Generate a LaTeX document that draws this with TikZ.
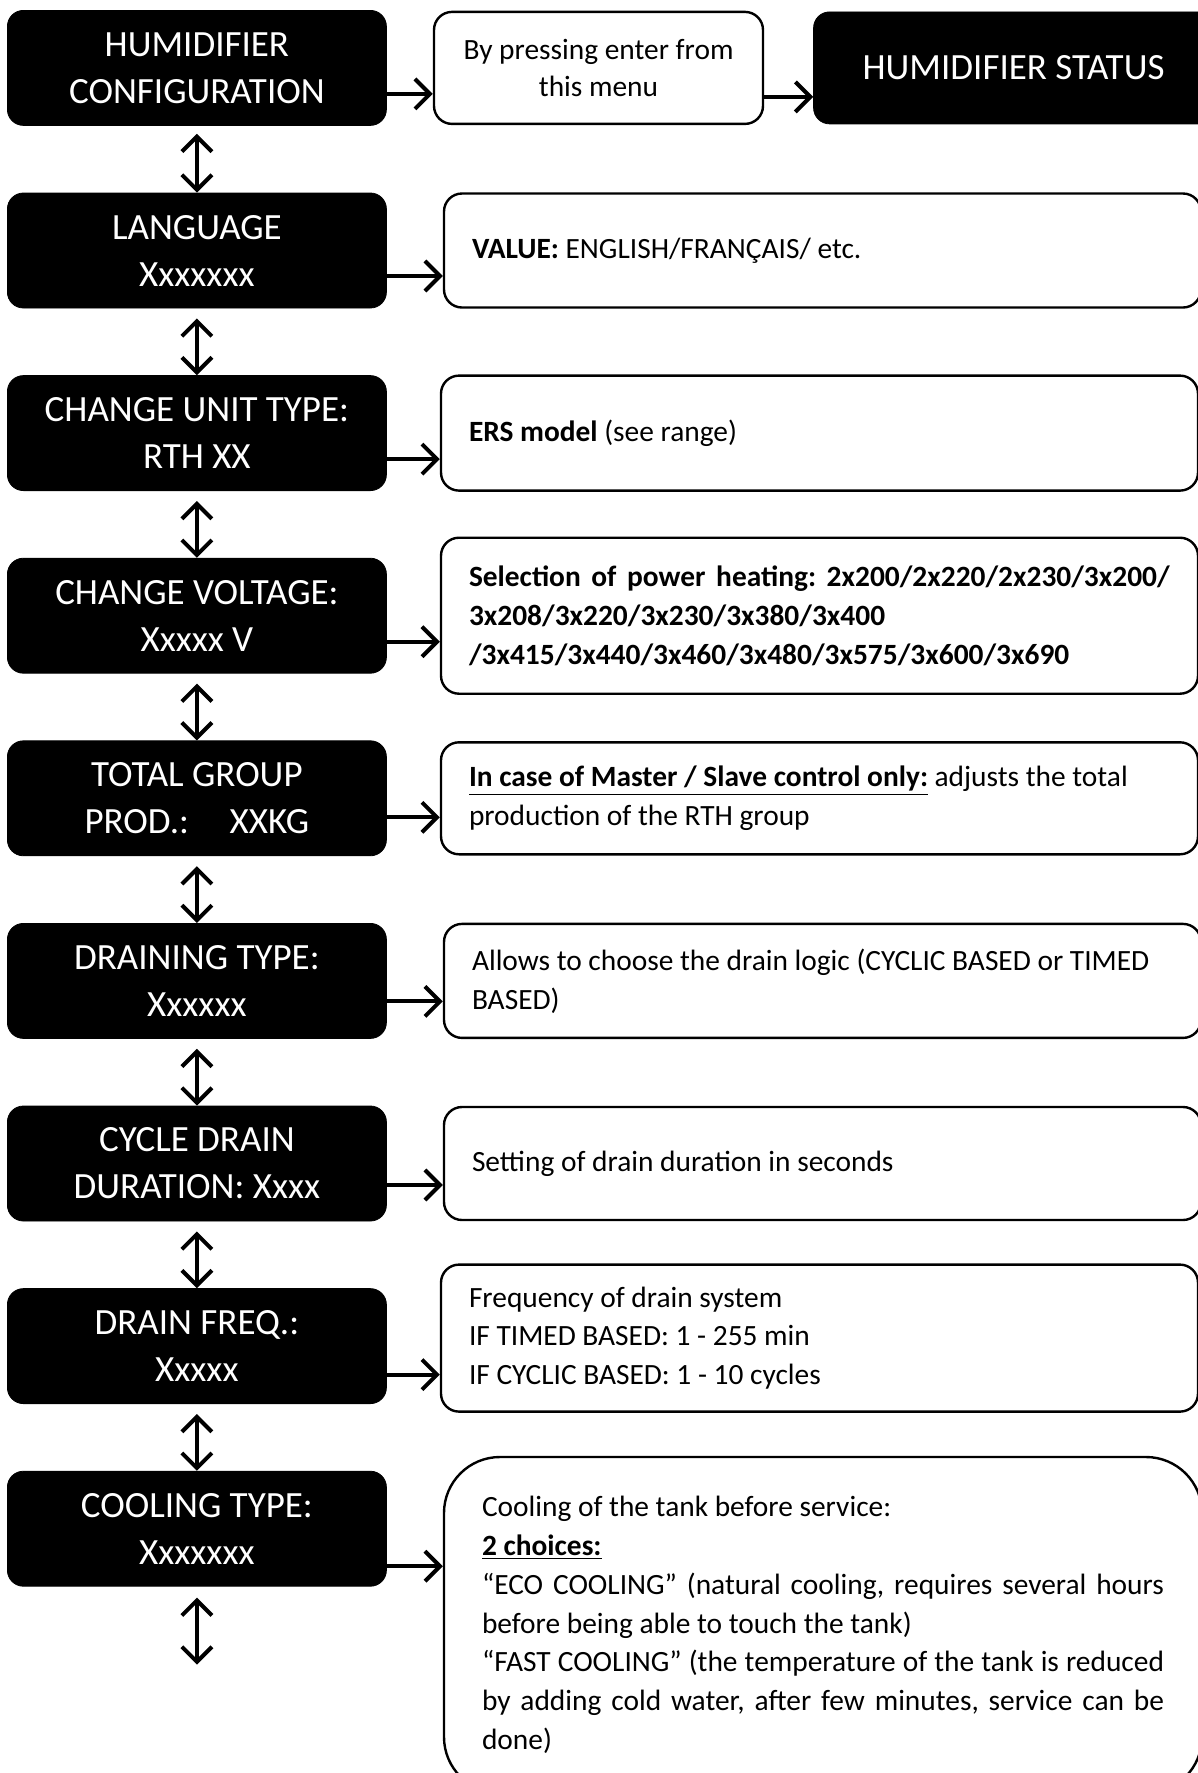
\documentclass[tikz,border=0pt]{standalone}
\usepackage{fontspec}
\setmainfont{Carlito}
\usetikzlibrary{arrows.meta,positioning}
\frenchspacing

\newcommand{\fullline}[1]{\makebox[\linewidth][s]{#1}}

\begin{document}
\begin{tikzpicture}[
  node distance=33.4pt and 26.5pt,
  >={Straight Barb[length=7.5pt,width=15pt]},
  menu/.style={fill=black,draw=black,rounded corners=8pt,text=white,
    align=center,minimum width=189.5pt,minimum height=57.5pt,inner sep=2pt,
    font=\fontsize{18.5}{23.5}\selectfont},
  note/.style={draw=black,line width=1.2pt,rounded corners=9pt,align=center,
    minimum width=164.5pt,minimum height=56pt,inner sep=2pt,
    font=\fontsize{14.7}{18.5}\selectfont},
  info/.style={draw=black,line width=1.2pt,rounded corners=9pt,align=flush left,
    text width=350.5pt,inner xsep=14pt,inner ysep=4pt,minimum width=378.5pt,
    font=\fontsize{14.7}{19.4}\selectfont},
  flow/.style={->,line width=2pt},
  both/.style={<->,line width=2pt}
]
\useasboundingbox (0,0) rectangle (599pt,-886.5pt);
\node[menu,anchor=north west] (config) at (3.5pt,-5pt) {HUMIDIFIER\\CONFIGURATION};
\node[menu,below=of config] (lang) {LANGUAGE\\Xxxxxxx};
\node[menu,below=of lang] (unit) {CHANGE UNIT TYPE:\\RTH XX};
\node[menu,below=of unit] (volt) {CHANGE VOLTAGE:\\Xxxxx V};
\node[menu,below=of volt] (group) {TOTAL GROUP\\PROD.:\hspace{1.1em}XXKG};
\node[menu,below=of group] (drain) {DRAINING TYPE:\\Xxxxxx};
\node[menu,below=of drain] (cycle) {CYCLE DRAIN\\DURATION: Xxxx};
\node[menu,below=of cycle] (freq) {DRAIN FREQ.:\\Xxxxx};
\node[menu,below=of freq] (cool) {COOLING TYPE:\\Xxxxxxx};
\coordinate[below=39pt of cool] (more);

\node[note,right=23pt of config] (press) {By pressing enter from\\this menu};
\node[menu,right=24.5pt of press,minimum width=200pt,minimum height=56pt] (status) {HUMIDIFIER STATUS};
\node[info,right=28pt of lang,minimum height=57pt] (value) {\textbf{VALUE:} ENGLISH/FRANÇAIS/ etc.};
\node[info,right=of unit,minimum height=57.5pt] (ers) {\textbf{ERS model} (see range)};
\node[info,right=of volt,minimum height=78pt] (power) {\fullline{\textbf{Selection of power heating: 2x200/2x220/2x230/3x200/}}\\
  \textbf{3x208/3x220/3x230/3x380/3x400}\\
  \textbf{/3x415/3x440/3x460/3x480/3x575/3x600/3x690}};
\node[info,right=of group,minimum height=56pt] (master) {\underline{\textbf{In case of Master / Slave control only:}} adjusts the total\\
  production of the RTH group};
\node[info,right=28pt of drain,minimum height=57pt] (logic) {Allows to choose the drain logic (CYCLIC BASED or TIMED\\BASED)};
\node[info,right=28pt of cycle,minimum height=56.5pt] (duration) {Setting of drain duration in seconds};
\node[info,right=of freq,minimum height=73.5pt,yshift=4pt] (period) {Frequency of drain system\\
  IF TIMED BASED: 1 - 255 min\\
  IF CYCLIC BASED: 1 - 10 cycles};
\node[info,rounded corners=28pt,text width=341pt,minimum width=379pt,minimum height=168pt,
  anchor=north west] (tank) at ([xshift=28pt,yshift=7.5pt]cool.north east) {Cooling of the tank before service:\\
  \underline{\textbf{2 choices:}}\\
  \fullline{“ECO COOLING” (natural cooling, requires several hours}\\
  before being able to touch the tank)\\
  \fullline{“FAST COOLING” (the temperature of the tank is reduced}\\
  \fullline{by adding cold water, after few minutes, service can be}\\
  done)};

\draw[flow] ([yshift=-13pt]config.east) -- ([yshift=-13pt]config.east -| press.west);
\draw[flow] ([yshift=-14.5pt]press.east) -- ([yshift=-14.5pt]press.east -| status.west);
\draw[flow] ([yshift=-12.75pt]lang.east) -- ([yshift=-12.75pt]lang.east -| value.west);
\draw[flow] ([yshift=-13pt]unit.east) -- ([yshift=-13pt]unit.east -| ers.west);
\draw[flow] ([yshift=-13pt]volt.east) -- ([yshift=-13pt]volt.east -| power.west);
\draw[flow] ([yshift=-9.5pt]group.east) -- ([yshift=-9.5pt]group.east -| master.west);
\draw[flow] ([yshift=-10.25pt]drain.east) -- ([yshift=-10.25pt]drain.east -| logic.west);
\draw[flow] ([yshift=-10.75pt]cycle.east) -- ([yshift=-10.75pt]cycle.east -| duration.west);
\draw[flow] ([yshift=-14.25pt]freq.east) -- ([yshift=-14.25pt]freq.east -| period.west);
\draw[flow] ([yshift=-18.75pt]cool.east) -- ([yshift=-18.75pt]cool.east -| tank.west);

\draw[both] ([yshift=-4pt]config.south) -- (lang.north);
\draw[both] ([yshift=-5pt]lang.south) -- (unit.north);
\draw[both] ([yshift=-5pt]unit.south) -- (volt.north);
\draw[both] ([yshift=-5pt]volt.south) -- (group.north);
\draw[both] ([yshift=-5pt]group.south) -- (drain.north);
\draw[both] ([yshift=-5pt]drain.south) -- (cycle.north);
\draw[both] ([yshift=-5pt]cycle.south) -- (freq.north);
\draw[both] ([yshift=-5pt]freq.south) -- (cool.north);
\draw[both] ([yshift=-5.5pt]cool.south) -- (more);
\end{tikzpicture}
\end{document}
